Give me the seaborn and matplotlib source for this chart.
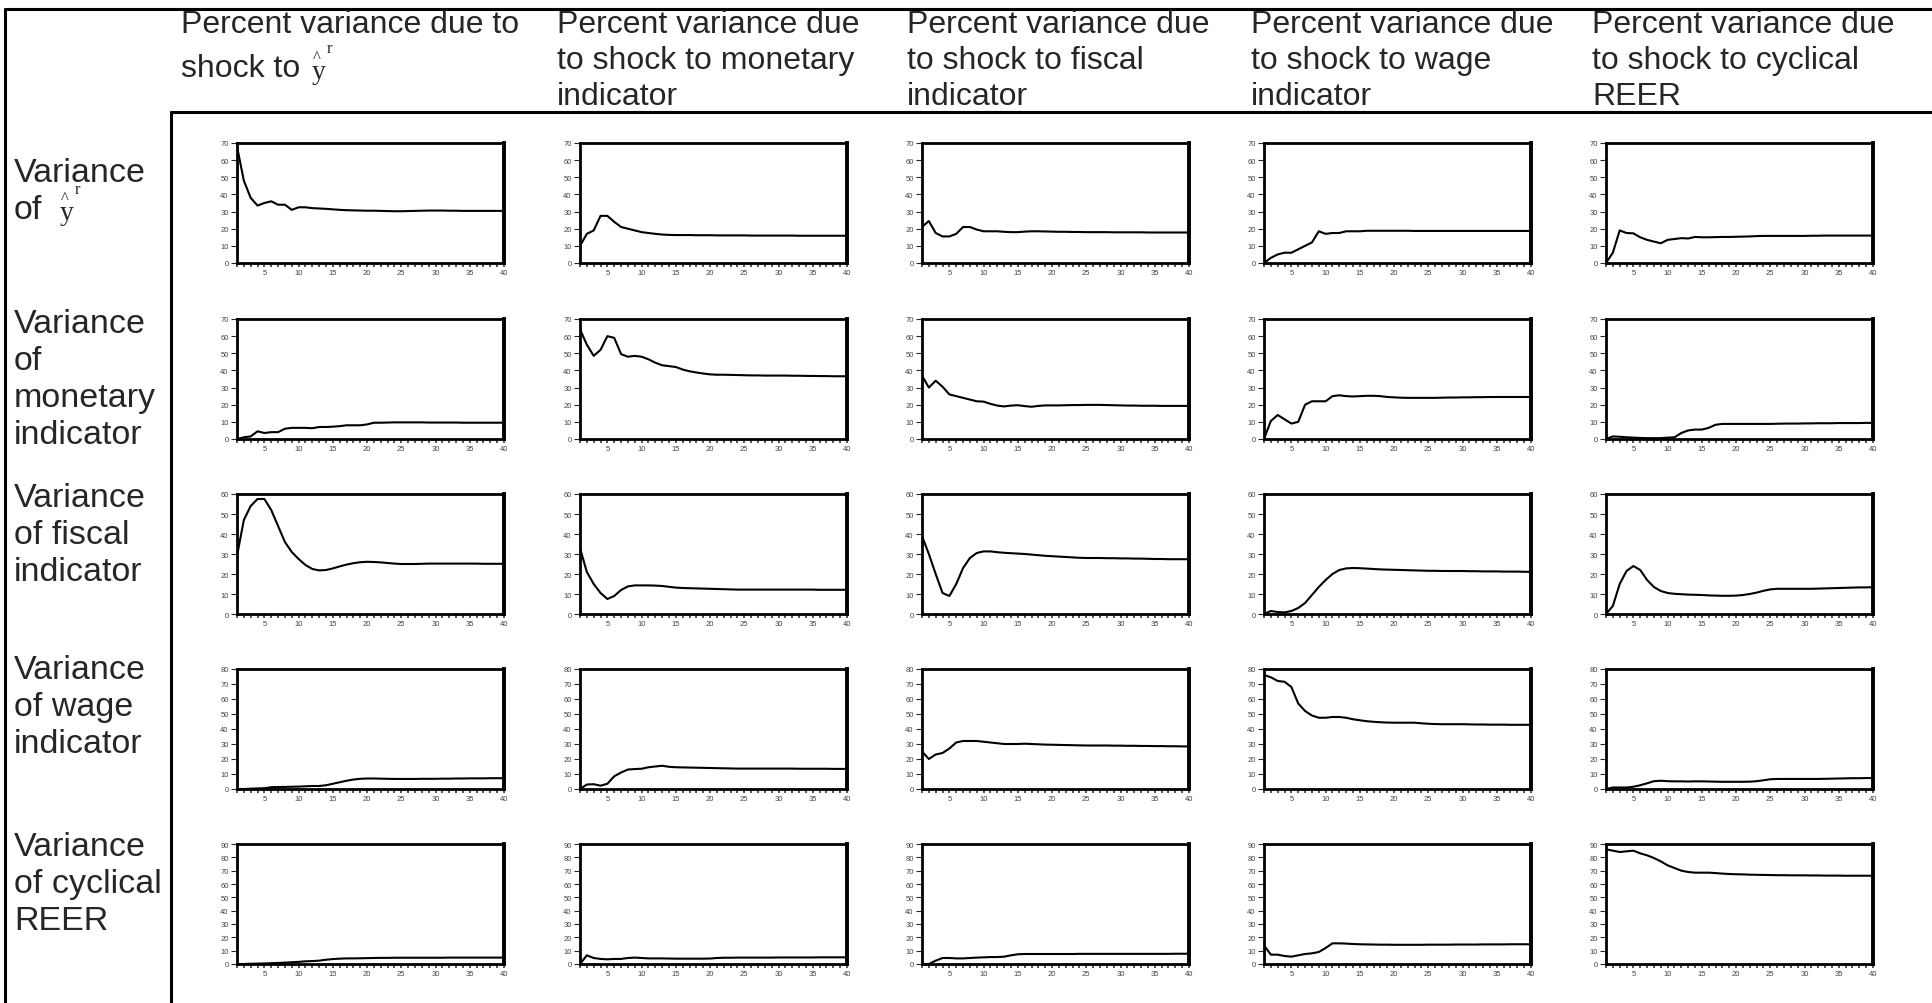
import matplotlib
matplotlib.use("Agg")
import matplotlib.pyplot as plt
from matplotlib.lines import Line2D
import seaborn as sns

# horizon (quarters)
periods = list(range(1, 41))

shock_titles = [
    "Percent variance due to",
    "Percent variance due\nto shock to monetary\nindicator",
    "Percent variance due\nto shock to fiscal\nindicator",
    "Percent variance due\nto shock to wage\nindicator",
    "Percent variance due\nto shock to cyclical\nREER",
]
row_titles = [
    "Variance\nof",
    "Variance\nof\nmonetary\nindicator",
    "Variance\nof fiscal\nindicator",
    "Variance\nof wage\nindicator",
    "Variance\nof cyclical\nREER",
]
row_ymax = [70, 70, 60, 80, 90]

# --- variance of y^r ---
yr_y = [68, 48, 38, 33.5, 35, 36, 34, 34, 31, 32.5,
        32.5, 32, 31.8, 31.6, 31.3, 31, 30.8, 30.7, 30.6, 30.5,
        30.5, 30.4, 30.3, 30.2, 30.2, 30.3, 30.4, 30.5, 30.6, 30.6,
        30.6, 30.5, 30.5, 30.4, 30.4, 30.4, 30.4, 30.4, 30.4, 30.4]
yr_mon = [10, 17, 19, 27.5, 27.5, 24, 21, 20, 19, 18,
          17.5, 17, 16.6, 16.4, 16.3, 16.3, 16.3, 16.2, 16.2, 16.2,
          16.1, 16.1, 16.1, 16.1, 16.1, 16.0, 16.0, 16.0, 16.0, 16.0,
          16.0, 16.0, 15.9, 15.9, 15.9, 15.9, 15.9, 15.9, 15.9, 15.9]
yr_fis = [21, 24.5, 17.5, 15.5, 15.5, 17, 21, 21, 19.5, 18.5,
          18.5, 18.5, 18.2, 18, 18, 18.3, 18.5, 18.5, 18.4, 18.3,
          18.2, 18.2, 18.1, 18.1, 18, 18, 18, 18, 17.9, 17.9,
          17.9, 17.9, 17.9, 17.8, 17.8, 17.8, 17.8, 17.8, 17.8, 17.8]
yr_wage = [0, 3, 5, 6, 6, 8, 10, 12, 18.5, 17,
           17.5, 17.5, 18.5, 18.5, 18.5, 18.8, 18.8, 18.8, 18.8, 18.8,
           18.8, 18.8, 18.7, 18.7, 18.7, 18.7, 18.7, 18.7, 18.7, 18.7,
           18.7, 18.7, 18.7, 18.7, 18.7, 18.7, 18.7, 18.7, 18.7, 18.7]
yr_reer = [0, 6, 19, 17.5, 17.3, 15, 13.5, 12.5, 11.5, 13.5,
           14, 14.5, 14.3, 15.2, 15, 15, 15.1, 15.2, 15.2, 15.3,
           15.4, 15.5, 15.7, 15.8, 15.8, 15.8, 15.8, 15.8, 15.8, 15.8,
           15.9, 15.9, 16, 16, 16, 16, 16, 16, 16, 16]

# --- variance of monetary indicator ---
mon_y = [0, 1, 1.5, 4.5, 3.5, 4, 4, 6, 6.5, 6.5,
         6.5, 6.3, 7, 7, 7.2, 7.5, 8, 8, 8, 8.5,
         9.5, 9.5, 9.6, 9.7, 9.7, 9.7, 9.7, 9.7, 9.6, 9.6,
         9.6, 9.6, 9.6, 9.5, 9.5, 9.5, 9.5, 9.5, 9.5, 9.5]
mon_mon = [64, 55, 48.5, 52, 60, 59, 49.5, 48, 48.5, 48,
           46.5, 44.5, 43, 42.5, 42, 40.5, 39.5, 38.8, 38.2, 37.7,
           37.5, 37.5, 37.4, 37.3, 37.2, 37.1, 37.1, 37, 37, 37,
           37, 36.9, 36.9, 36.8, 36.8, 36.7, 36.7, 36.6, 36.6, 36.6]
mon_fis = [37, 30, 34, 30.5, 26, 25, 24, 23, 22, 21.8,
           20.5, 19.5, 19, 19.5, 19.7, 19.2, 18.8, 19.3, 19.6, 19.6,
           19.6, 19.7, 19.8, 19.8, 19.9, 19.9, 19.9, 19.8, 19.7, 19.6,
           19.5, 19.5, 19.4, 19.4, 19.4, 19.3, 19.3, 19.3, 19.3, 19.3]
mon_wage = [0, 10.5, 14, 11.5, 9, 10, 20, 22, 22, 22,
            25, 25.5, 25, 24.8, 25, 25.2, 25.2, 25, 24.5, 24.3,
            24.1, 24, 24, 24, 24, 24, 24.1, 24.2, 24.2, 24.3,
            24.3, 24.4, 24.4, 24.5, 24.5, 24.5, 24.5, 24.5, 24.5, 24.5]
mon_reer = [0, 1.5, 1.3, 1, 0.8, 0.6, 0.5, 0.5, 0.5, 0.8,
            1, 3.5, 5, 5.5, 5.5, 6.5, 8.3, 8.8, 8.8, 8.8,
            8.8, 8.8, 8.8, 8.8, 8.8, 8.9, 9, 9, 9, 9.1,
            9.1, 9.2, 9.2, 9.2, 9.3, 9.3, 9.3, 9.3, 9.4, 9.4]

# --- variance of fiscal indicator ---
fis_y = [29, 47, 54, 57.5, 57.5, 52, 44, 36, 31, 27.5,
         24.5, 22.5, 21.8, 22, 22.8, 23.8, 24.7, 25.4, 25.9, 26.1,
         26, 25.8, 25.5, 25.2, 25, 25, 25, 25.1, 25.2, 25.2,
         25.2, 25.2, 25.2, 25.2, 25.2, 25.2, 25.1, 25.1, 25.1, 25.1]
fis_mon = [33, 21, 15, 10.5, 7.5, 9, 12, 13.8, 14.3, 14.3,
           14.3, 14.2, 14, 13.6, 13.2, 13, 12.9, 12.8, 12.7, 12.6,
           12.5, 12.4, 12.3, 12.2, 12.2, 12.2, 12.2, 12.2, 12.2, 12.2,
           12.2, 12.2, 12.2, 12.2, 12.2, 12.1, 12.1, 12.1, 12.1, 12.1]
fis_fis = [39, 30, 20, 10.5, 9, 15, 23, 28, 30.5, 31.3,
           31.3, 30.9, 30.6, 30.4, 30.2, 30, 29.7, 29.4, 29.1, 28.9,
           28.7, 28.5, 28.3, 28.1, 28, 28, 28, 27.9, 27.9, 27.8,
           27.8, 27.7, 27.7, 27.6, 27.5, 27.5, 27.4, 27.4, 27.4, 27.4]
fis_wage = [0, 1.5, 1, 0.8, 1.5, 3, 5.5, 9.5, 13.5, 17,
            20, 22, 22.8, 23, 22.9, 22.7, 22.5, 22.3, 22.2, 22.1,
            22, 21.9, 21.8, 21.7, 21.6, 21.6, 21.5, 21.5, 21.5, 21.5,
            21.4, 21.4, 21.3, 21.3, 21.3, 21.2, 21.2, 21.2, 21.1, 21.1]
fis_reer = [0, 4, 15, 21.5, 24, 22, 17, 13.5, 11.5, 10.5,
            10.1, 9.9, 9.7, 9.6, 9.5, 9.3, 9.2, 9.1, 9.1, 9.2,
            9.5, 10, 10.7, 11.6, 12.3, 12.6, 12.6, 12.6, 12.6, 12.6,
            12.6, 12.7, 12.8, 12.9, 13, 13.1, 13.2, 13.3, 13.3, 13.4]

# --- variance of wage indicator ---
wage_y = [0, 0, 0.2, 0.4, 0.5, 1.2, 1.3, 1.4, 1.5, 1.6,
          1.8, 2, 2, 2.5, 3.5, 4.5, 5.5, 6.3, 6.8, 7,
          7, 6.9, 6.8, 6.7, 6.7, 6.7, 6.7, 6.8, 6.8, 6.8,
          6.9, 6.9, 7, 7, 7.1, 7.1, 7.1, 7.2, 7.2, 7.2]
wage_mon = [0, 3, 3.2, 2.2, 3.5, 8.5, 11, 13, 13.3, 13.5,
            14.5, 15, 15.5, 14.8, 14.5, 14.4, 14.3, 14.2, 14.1, 14,
            13.9, 13.8, 13.7, 13.6, 13.6, 13.6, 13.6, 13.6, 13.6, 13.6,
            13.6, 13.6, 13.5, 13.5, 13.5, 13.5, 13.5, 13.4, 13.4, 13.4]
wage_fis = [25, 20, 23, 24, 27, 31, 32, 32, 32, 31.5,
            31, 30.5, 30, 30, 30, 30.2, 30, 29.8, 29.6, 29.5,
            29.4, 29.3, 29.2, 29.1, 29, 29, 29, 29, 28.9, 28.9,
            28.8, 28.8, 28.7, 28.7, 28.6, 28.6, 28.5, 28.5, 28.4, 28.4]
wage_wage = [76, 74.5, 72, 71.5, 68, 57, 52, 49, 47.5, 47.5,
             48, 48, 47.5, 46.5, 45.8, 45.2, 44.8, 44.5, 44.3, 44.2,
             44.2, 44.2, 44.2, 43.8, 43.5, 43.3, 43.2, 43.2, 43.2, 43.2,
             43.1, 43, 43, 42.9, 42.9, 42.9, 42.8, 42.8, 42.8, 42.8]
wage_reer = [0, 1, 1, 1, 1.5, 2.5, 3.8, 5.2, 5.5, 5.2,
             5.1, 5.1, 5, 5.1, 5.1, 5, 4.9, 4.8, 4.8, 4.8,
             4.8, 4.9, 5.2, 5.8, 6.5, 6.7, 6.7, 6.7, 6.7, 6.7,
             6.7, 6.7, 6.8, 6.9, 7, 7.1, 7.2, 7.2, 7.3, 7.3]

# --- variance of cyclical REER ---
reer_y = [0, 0, 0.2, 0.3, 0.4, 0.6, 0.8, 1, 1.3, 1.6,
          2, 2.2, 2.5, 3.2, 3.7, 4, 4.2, 4.2, 4.3, 4.4,
          4.5, 4.6, 4.6, 4.7, 4.7, 4.7, 4.7, 4.7, 4.7, 4.7,
          4.7, 4.8, 4.8, 4.8, 4.8, 4.8, 4.8, 4.8, 4.8, 4.8]
reer_mon = [0, 6.5, 4.5, 3.8, 3.5, 3.8, 3.8, 4.5, 4.8, 4.5,
            4.2, 4.2, 4.2, 4.1, 4, 4, 4, 4, 4, 4.1,
            4.5, 4.7, 4.7, 4.8, 4.8, 4.8, 4.8, 4.8, 4.8, 4.9,
            4.9, 4.9, 4.9, 4.9, 4.9, 5, 5, 5, 5, 5]
reer_fis = [0, 0, 2.5, 4.5, 4.5, 4.2, 4.2, 4.5, 4.8, 5,
            5.2, 5.2, 5.5, 6.5, 7.3, 7.5, 7.5, 7.5, 7.5, 7.5,
            7.5, 7.5, 7.5, 7.6, 7.6, 7.6, 7.6, 7.6, 7.6, 7.6,
            7.6, 7.6, 7.6, 7.6, 7.6, 7.6, 7.6, 7.7, 7.7, 7.7]
reer_wage = [14, 7, 7, 6, 5.5, 6.5, 7.5, 8, 9, 12,
             15.5, 15.5, 15.3, 15, 14.8, 14.7, 14.6, 14.5, 14.5, 14.4,
             14.4, 14.4, 14.4, 14.4, 14.5, 14.5, 14.5, 14.5, 14.6, 14.6,
             14.6, 14.6, 14.7, 14.7, 14.7, 14.7, 14.8, 14.8, 14.8, 14.8]
reer_reer = [86, 85, 84, 84.5, 85, 83, 81.5, 79.5, 77, 74,
             72, 70, 69, 68.5, 68.5, 68.5, 68.2, 67.8, 67.5, 67.3,
             67.2, 67, 66.9, 66.8, 66.7, 66.6, 66.6, 66.5, 66.5, 66.5,
             66.4, 66.4, 66.3, 66.3, 66.3, 66.2, 66.2, 66.2, 66.2, 66.2]

grid = [
    [yr_y, yr_mon, yr_fis, yr_wage, yr_reer],
    [mon_y, mon_mon, mon_fis, mon_wage, mon_reer],
    [fis_y, fis_mon, fis_fis, fis_wage, fis_reer],
    [wage_y, wage_mon, wage_fis, wage_wage, wage_reer],
    [reer_y, reer_mon, reer_fis, reer_wage, reer_reer],
]

sns.set_style("white")
plt.rcParams["font.family"] = ["Liberation Sans", "DejaVu Sans"]

W, H = 1932, 1004
fig = plt.figure(figsize=(W / 100, H / 100), dpi=100)


def fx(x):
    return x / W


def fy(y):
    return 1 - y / H


def hline(y, x0, x1, lw=2.2):
    fig.add_artist(Line2D([fx(x0), fx(x1)], [fy(y), fy(y)],
                          transform=fig.transFigure, color="black", lw=lw))


def vline(x, y0, y1, lw=2.2):
    fig.add_artist(Line2D([fx(x), fx(x)], [fy(y0), fy(y1)],
                          transform=fig.transFigure, color="black", lw=lw))


def lines_text(x, base, text, step=37, size=23):
    # one baseline per line so the spacing matches the table
    for i, line in enumerate(text.split("\n")):
        fig.text(fx(x), fy(base + i * step), line, fontsize=size, va="baseline", ha="left")


def y_hat_r(x, base):
    # y with a hat and superscript r, drawn in a serif face
    fig.text(fx(x), fy(base), "y", family="Liberation Serif", fontsize=20, va="baseline")
    fig.text(fx(x + 1), fy(base - 17), "^", family="Liberation Serif", fontsize=12, va="baseline")
    fig.text(fx(x + 15), fy(base - 26), "r", family="Liberation Serif", fontsize=12, va="baseline")


# table rules
hline(10, 5, W)
hline(113, 171, W)
vline(5, 10, H)
vline(171, 113, H)

# column headers
head_x = [181, 557, 907, 1251, 1592]
for x, t in zip(head_x, shock_titles):
    lines_text(x, 33, t, step=36)
fig.text(fx(181), fy(77), "shock to", fontsize=23, va="baseline", ha="left")
y_hat_r(312, 79)

# row headers
row_base = [182, 333, 507, 679, 856]
for yb, t in zip(row_base, row_titles):
    lines_text(14, yb, t, size=24.5)
y_hat_r(60, 220)

# panels
ax_left = [237, 580, 922, 1264, 1606]
ax_top = [144, 320, 495, 670, 845]
ax_w, ax_h = 267, 120

for r in range(5):
    for c in range(5):
        ax = fig.add_axes([fx(ax_left[c]), fy(ax_top[r] + ax_h), ax_w / W, ax_h / H])
        sns.lineplot(x=periods, y=grid[r][c], ax=ax, color="black", linewidth=1.5)
        ax.set_xlim(1, 40)
        ax.set_ylim(0, row_ymax[r])
        ax.set_yticks(range(0, row_ymax[r] + 1, 10))
        ax.set_xticks(range(5, 41, 5))
        ax.set_xticks(periods, minor=True)
        ax.tick_params(axis="y", direction="out", length=4, width=0.8, labelsize=5.5,
                       pad=2, labelcolor="#444444", left=True)
        ax.tick_params(axis="x", which="both", direction="out", length=3, width=1.1,
                       labelsize=5.5, pad=1.5, labelcolor="#444444", bottom=True)
        for side, sp in ax.spines.items():
            sp.set_visible(True)
            sp.set_color("black")
            sp.set_linewidth(2.8 if side == "right" else 2.0)
        ax.set_xlabel("")
        ax.set_ylabel("")

fig.savefig("out.png", dpi=100)
